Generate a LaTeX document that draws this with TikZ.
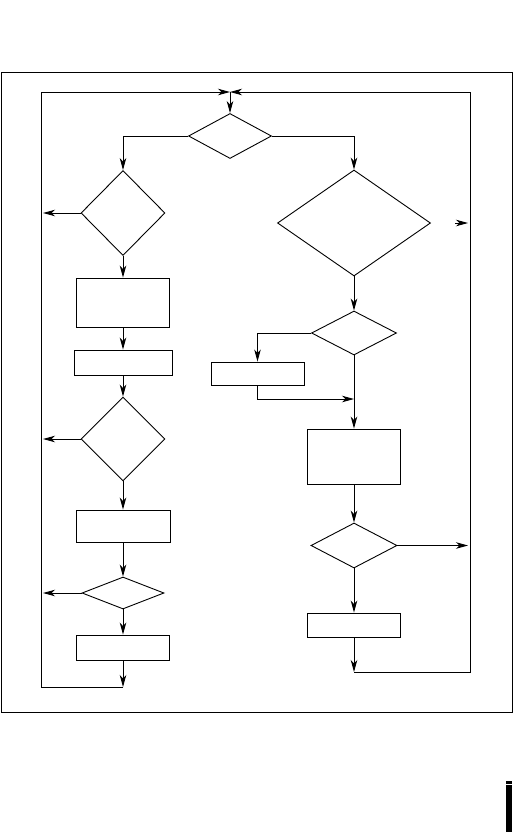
\documentclass[tikz,border=0pt]{standalone}
\usepackage{tikz}
\usetikzlibrary{shapes.geometric,arrows.meta}

\begin{document}
\begin{tikzpicture}
 [x=1pt,y=-1pt,line width=0.9pt,
  >={Stealth[length=12pt,width=6.5pt,inset=3.5pt]},
  decision/.style={diamond,draw,inner sep=0pt,minimum width=#1},
  block/.style={rectangle,draw,inner sep=0pt,minimum width=93pt}]

\useasboundingbox (0,0) rectangle (513,835);
\draw (1,72) rectangle (512,712);
\fill (506,781) rectangle (511.5,783.5);
\fill (506,785) rectangle (511.5,832);

% left column
\node[decision=84pt,minimum height=85pt] (d2) at (123,213) {};
\node[block,minimum height=49pt] (b1) at (123,302.5) {};
\node[block,minimum width=98pt,minimum height=25pt] (b2) at (123,362.5) {};
\node[decision=84pt,minimum height=84pt] (d4) at (123,439) {};
\node[block,minimum width=94pt,minimum height=32pt] (b3) at (123,526) {};
\node[decision=82pt,minimum height=32pt] (d5) at (123,593) {};
\node[block,minimum height=25pt] (b4) at (123,647.5) {};

% right column
\node[decision=83pt,minimum height=45pt] (d1) at (230,136) {};
\node[decision=153pt,minimum height=106pt] (d3) at (354,223) {};
\node[decision=85pt,minimum height=44pt] (d6) at (354,333) {};
\node[block,minimum height=23pt] (b5) at (257.5,373.5) {};
\node[block,minimum height=55pt] (b6) at (354,456.5) {};
\node[decision=86pt,minimum height=45pt] (d7) at (354,545.5) {};
\node[block,minimum height=24pt] (b7) at (354,625) {};

\coordinate (top) at (230,92);
\coordinate (lb) at (123,687);
\coordinate (lc) at (41,687);
\coordinate (ltc) at (41,92);
\coordinate (rb) at (354,672);
\coordinate (rc) at (470,672);
\coordinate (rtc) at (470,92);
\coordinate (j1) at (354,399);
\coordinate (o2) at (43,213);
\coordinate (o4) at (43,439);
\coordinate (o5) at (43,593);
\coordinate (e3a) at (455,223);
\coordinate (e3b) at (468,223);
\coordinate (e7) at (468,545.5);

\draw[->] (top) -- (d1.north);
\draw[->] (d1.west) -| (d2.north);
\draw[->] (d1.east) -| (d3.north);

\draw[->] (d2.west) -- (o2);
\draw[->] (d2.south) -- (b1.north);
\draw[->] (b1.south) -- (b2.north);
\draw[->] (b2.south) -- (d4.north);
\draw[->] (d4.west) -- (o4);
\draw[->] (d4.south) -- (b3.north);
\draw[->] (b3.south) -- (d5.north);
\draw[->] (d5.west) -- (o5);
\draw[->] (d5.south) -- (b4.north);
\draw[->] (b4.south) -- (lb);
\draw[->] (lb) -- (lc) -- (ltc) -- (top);

\draw[->] (e3a) -- (e3b);
\draw[->] (d3.south) -- (d6.north);
\draw[->] (d6.west) -| (b5.north);
\draw[->] (b5.south) |- (j1);
\draw[->] (d6.south) -- (b6.north);
\draw[->] (b6.south) -- (d7.north);
\draw[->] (d7.east) -- (e7);
\draw[->] (d7.south) -- (b7.north);
\draw[->] (b7.south) -- (rb);
\draw[->] (rb) -- (rc) -- (rtc) -- (top);

\end{tikzpicture}
\end{document}
